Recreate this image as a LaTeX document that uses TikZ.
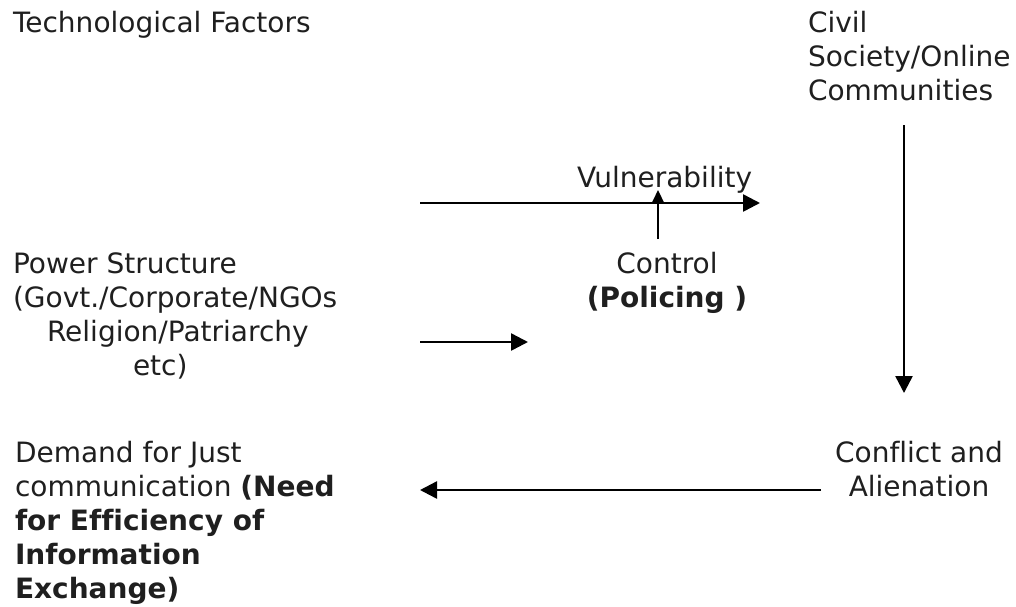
\documentclass[tikz,border=0pt]{standalone}
\usepackage{fontspec}
\setmainfont[Ligatures=NoCommon]{DejaVu Sans}
\usetikzlibrary{arrows.meta}
\tikzset{
  txt/.style={inner sep=0pt, outer sep=0pt, text=black!88, font=\fontsize{28}{34}\selectfont},
  conn/.style={line width=2.5pt, draw=black, -{Triangle[length=17pt,width=17pt]}},
  smallconn/.style={line width=2.2pt, draw=black, -{Triangle[length=13pt,width=12pt]}}
}
\begin{document}
\begin{tikzpicture}[x=1pt,y=-1pt]
\useasboundingbox[fill=white] (0,0) rectangle (1016,606);
\node[txt, anchor=base west] (tech) at (13,32) {Technological Factors};
\node[txt, anchor=base west] (civil) at (808,32) {\begin{tabular}[t]{@{}l@{}}Civil\\Society/Online\\Communities\end{tabular}};
\node[txt, anchor=base west] (vuln) at (577,187) {Vulnerability};
\node[txt, anchor=base] (control) at (667,273) {\begin{tabular}[t]{@{}c@{}}Control\\\textbf{(Policing )}\end{tabular}};
\node[txt, anchor=base west] (power) at (13,273) {\begin{tabular}[t]{@{}l@{}}Power Structure\\(Govt./Corporate/NGOs\\\hspace*{34pt}Religion/Patriarchy\\\hspace*{120pt}etc)\end{tabular}};
\node[txt, anchor=base] (conflict) at (919,462) {\begin{tabular}[t]{@{}c@{}}Conflict and\\Alienation\end{tabular}};
\node[txt, anchor=base west] (demand) at (15,462) {\begin{tabular}[t]{@{}l@{}}Demand for Just\\communication \textbf{(Need}\\\textbf{for Efficiency of}\\\textbf{Information}\\\textbf{Exchange)}\end{tabular}};
\coordinate (a1s) at (420,203);
\coordinate (a1e) at (760,203);
\coordinate (a2s) at (658,239);
\coordinate (a2e) at (658,190);
\coordinate (a3s) at (420,342);
\coordinate (a3e) at (528,342);
\coordinate (a4s) at (904,125);
\coordinate (a4e) at (904,393);
\coordinate (a5s) at (821,490);
\coordinate (a5e) at (420,490);
\draw[conn] (a1s) -- (a1e);
\draw[smallconn] (a2s) -- (a2e);
\draw[conn] (a3s) -- (a3e);
\draw[conn] (a4s) -- (a4e);
\draw[conn] (a5s) -- (a5e);
\end{tikzpicture}
\end{document}
